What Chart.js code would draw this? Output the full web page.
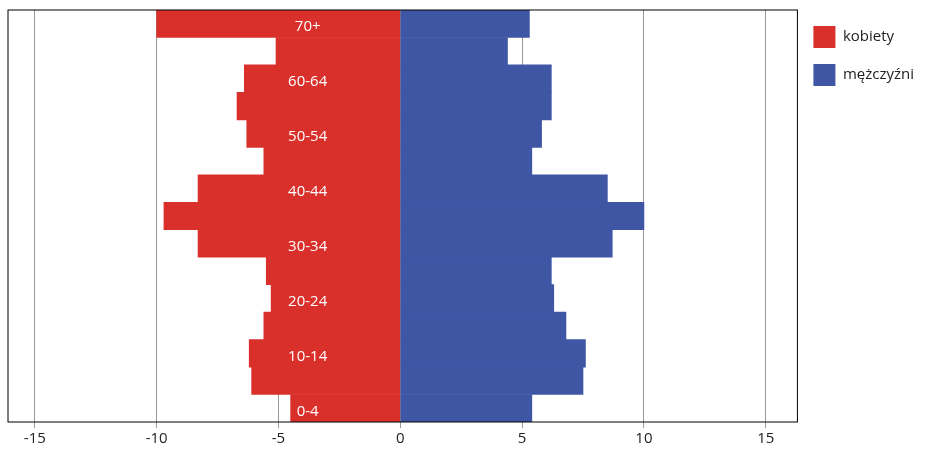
<!DOCTYPE html>
<html>
<head>
<meta charset="utf-8">
<script src="https://cdn.jsdelivr.net/npm/chart.js@4"></script>
<style>
  body { margin: 0; background: #fff; }
  #wrap { width: 932px; height: 450px; }
</style>
</head>
<body>
<div id="wrap"><canvas id="c"></canvas></div>
<script>
const grupy = ['0-4','5-9','10-14','15-19','20-24','25-29','30-34','35-39','40-44','45-49','50-54','55-59','60-64','65-69','70+'];
const kobiety = [-4.5,-6.1,-6.2,-5.6,-5.3,-5.5,-8.3,-9.7,-8.3,-5.6,-6.3,-6.7,-6.4,-5.1,-10.0];
const mezczyzni = [5.4,7.5,7.6,6.8,6.3,6.2,8.7,10.0,8.5,5.4,5.8,6.2,6.2,4.4,5.3];
const podpisy = ['0-4','10-14','20-24','30-34','40-44','50-54','60-64','70+'];
const ticksX = [-15,-10,-5,0,5,10,15];

const ramka = {
  id: 'ramka',
  afterDatasetsDraw: (chart) => {
    const { ctx, chartArea: { left, top, width, height }, scales } = chart;
    ctx.save();
    // etykiety grup wiekowych w czerwonej części
    ctx.fillStyle = '#ffffff';
    ctx.font = '15px "Open Sans"';
    ctx.textAlign = 'center';
    ctx.textBaseline = 'middle';
    podpisy.forEach(p => {
      const i = grupy.indexOf(p);
      ctx.fillText(p, scales.x.getPixelForValue(-3.8), scales.y.getPixelForValue(i) + 3);
    });
    ctx.strokeStyle = '#000';
    ctx.lineWidth = 1;
    ctx.strokeRect(left, top, width, height);
    ctx.restore();
  }
};

new Chart(document.getElementById('c'), {
  type: 'bar',
  data: {
    labels: grupy,
    datasets: [
      { label: 'kobiety', data: kobiety, backgroundColor: '#d9302c', categoryPercentage: 1, barPercentage: 1 },
      { label: 'mężczyźni', data: mezczyzni, backgroundColor: '#3f56a5', categoryPercentage: 1, barPercentage: 1 }
    ]
  },
  options: {
    indexAxis: 'y',
    responsive: true,
    maintainAspectRatio: false,
    animation: false,
    layout: { padding: { top: 10, left: 0, right: 8, bottom: 0 } },
    scales: {
      x: {
        stacked: true,
        min: -16.1,
        max: 16.3,
        afterBuildTicks: (axis) => { axis.ticks = ticksX.map(v => ({ value: v })); },
        grid: { color: '#999', drawTicks: true, tickLength: 6, lineWidth: 1 },
        border: { display: false },
        ticks: { color: '#222', font: { family: 'Open Sans', size: 15 }, padding: 2 }
      },
      y: {
        stacked: true,
        reverse: true,
        grid: { display: false },
        border: { display: false },
        ticks: { display: false }
      }
    },
    plugins: {
      legend: {
        position: 'right',
        align: 'start',
        labels: { boxWidth: 22, boxHeight: 22, padding: 16, color: '#222', font: { family: 'Open Sans', size: 15 } }
      },
      tooltip: { enabled: false }
    }
  },
  plugins: [ramka]
});
</script>
</body>
</html>
